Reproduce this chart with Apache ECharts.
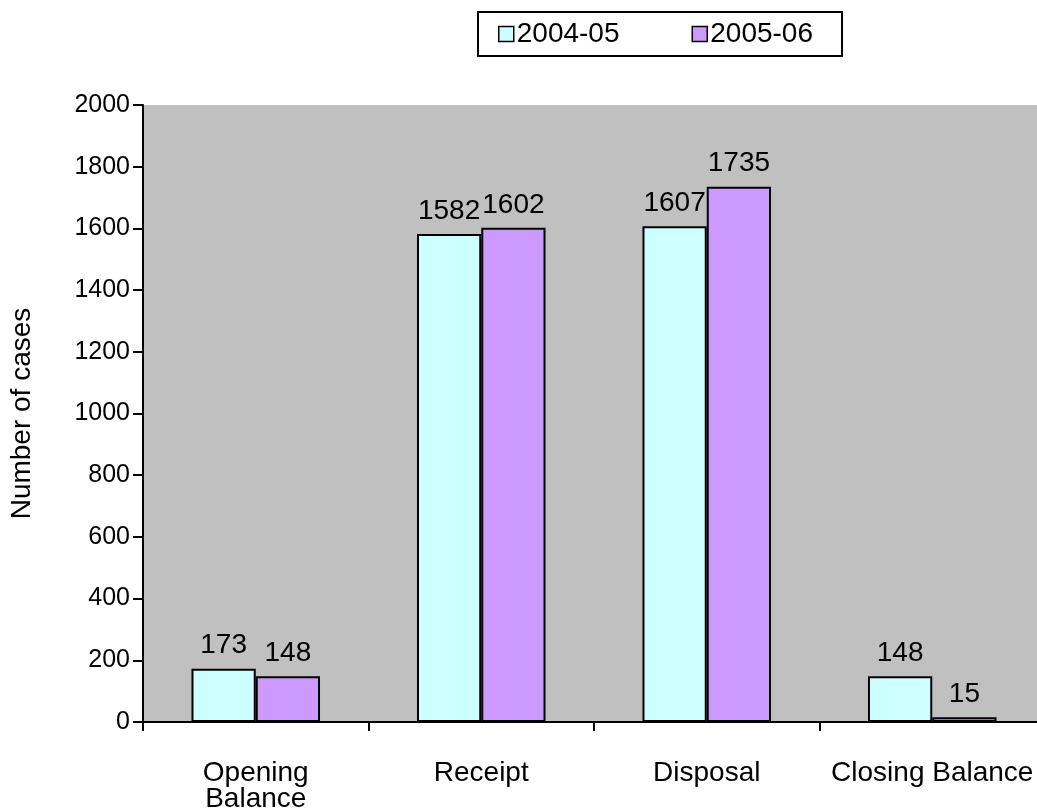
<!DOCTYPE html>
<html>
<head>
<meta charset="utf-8">
<script src="https://cdn.jsdelivr.net/npm/echarts@6/dist/echarts.min.js"></script>
<style>
html,body{margin:0;padding:0;background:#fff;}
#main{width:1037px;height:809px;}
</style>
</head>
<body>
<div id="main"></div>
<script>
var categories = ['Opening\nBalance', 'Receipt', 'Disposal', 'Closing Balance'];
var seriesNames = ['2004-05', '2005-06'];
var values0405 = [173, 1582, 1607, 148];
var values0506 = [148, 1602, 1735, 15];
var yTicks = [0, 200, 400, 600, 800, 1000, 1200, 1400, 1600, 1800, 2000];

var font = 'Arial, "Liberation Sans", sans-serif';
var myChart = echarts.init(document.getElementById('main'));

function barSeries(name, data, color) {
	return {
		name: name,
		type: 'bar',
		data: data,
		barGap: '0%',
		barCategoryGap: '43%',
		itemStyle: { color: color, borderColor: '#000', borderWidth: 2 },
		label: {
			show: true,
			position: 'top',
			distance: 9,
			color: '#000',
			fontSize: 28,
			fontFamily: font
		}
	};
}

var option = {
	animation: false,
	backgroundColor: '#fff',
	legend: {
		data: seriesNames,
		top: 12,
		left: 478,
		itemWidth: 15,
		itemHeight: 15,
		itemGap: 72,
		padding: [8, 29, 8, 20],
		borderColor: '#000',
		borderWidth: 2,
		icon: 'rect',
		itemStyle: { borderColor: '#000', borderWidth: 1.5 },
		textStyle: { fontSize: 28, fontFamily: font, color: '#000', padding: [0, 0, 0, -2] }
	},
	grid: {
		left: 143,
		top: 105,
		width: 902,
		height: 617,
		outerBoundsMode: 'none',
		show: true,
		backgroundColor: '#c0c0c0',
		borderWidth: 0
	},
	xAxis: {
		type: 'category',
		data: categories,
		axisLine: { lineStyle: { color: '#000', width: 2 } },
		axisTick: { show: true, length: 9, lineStyle: { color: '#000', width: 2 } },
		axisLabel: { color: '#000', fontSize: 28, fontFamily: font, margin: 38, lineHeight: 26, interval: 0 }
	},
	yAxis: {
		type: 'value',
		min: yTicks[0],
		max: yTicks[yTicks.length - 1],
		interval: yTicks[1] - yTicks[0],
		name: 'Number of cases',
		nameLocation: 'middle',
		nameGap: 107,
		nameTextStyle: { color: '#000', fontSize: 28, fontFamily: font },
		splitLine: { show: false },
		axisLine: { show: true, lineStyle: { color: '#000', width: 2 } },
		axisTick: { show: true, length: 10, lineStyle: { color: '#000', width: 2 } },
		axisLabel: { color: '#000', fontSize: 25, fontFamily: font, margin: 13, formatter: function (v) { return String(v); } }
	},
	series: [
		barSeries(seriesNames[0], values0405, '#ccffff'),
		barSeries(seriesNames[1], values0506, '#cc99ff')
	]
};
myChart.setOption(option);
</script>
</body>
</html>
